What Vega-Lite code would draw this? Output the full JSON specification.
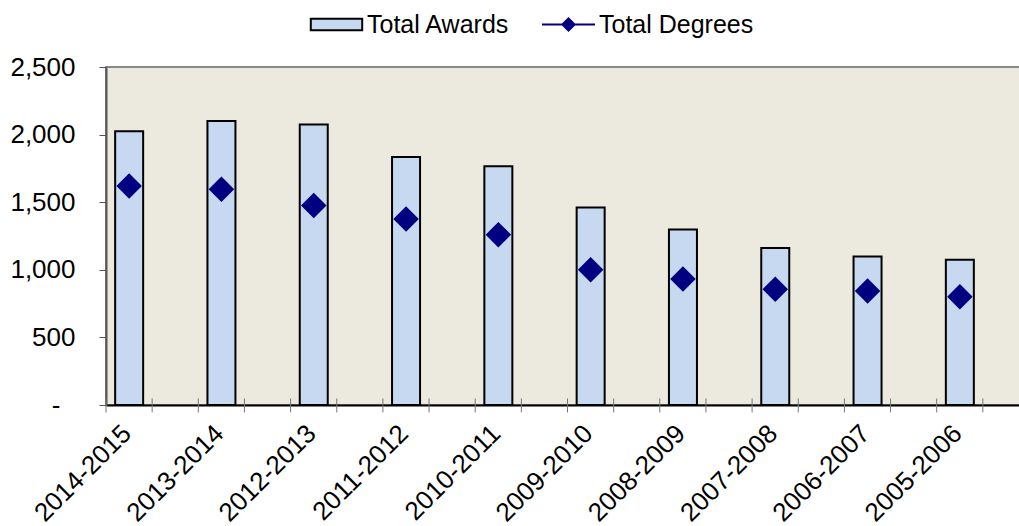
{
  "$schema": "https://vega.github.io/schema/vega-lite/v6.json",
  "width": 916,
  "height": 338,
  "autosize": {"type": "none"},
  "padding": {"left": 106, "top": 67, "right": 0, "bottom": 121},
  "background": "white",
  "config": {
    "font": "Liberation Sans",
    "view": {"fill": "#ECE9DE", "stroke": "#888888", "strokeWidth": 2},
    "axis": {"grid": false, "labelColor": "black", "labelFont": "Liberation Sans", "labelFontSize": 26, "title": null},
    "legend": {"labelFont": "Liberation Sans", "labelFontSize": 25, "labelColor": "black", "padding": 0}
  },
  "data": {
    "values": [
      {"year": "2014-2015", "awards": 2025, "degrees": 1620},
      {"year": "2013-2014", "awards": 2100, "degrees": 1595},
      {"year": "2012-2013", "awards": 2075, "degrees": 1475},
      {"year": "2011-2012", "awards": 1835, "degrees": 1375},
      {"year": "2010-2011", "awards": 1765, "degrees": 1260},
      {"year": "2009-2010", "awards": 1460, "degrees": 1000},
      {"year": "2008-2009", "awards": 1298, "degrees": 932},
      {"year": "2007-2008", "awards": 1161, "degrees": 856},
      {"year": "2006-2007", "awards": 1098, "degrees": 843},
      {"year": "2005-2006", "awards": 1075, "degrees": 800}
    ]
  },
  "layer": [
    {
      "mark": {"type": "bar", "width": 28, "xOffset": -23, "stroke": "black", "strokeWidth": 2},
      "encoding": {
        "x": {
          "field": "year", "type": "nominal", "sort": null,
          "scale": {"range": [0, 923], "paddingInner": 0, "paddingOuter": 0},
          "axis": {
            "title": null, "labelAngle": -45, "labelAlign": "right", "labelBaseline": "middle",
            "ticks": false, "tickSize": 0, "labelPadding": 24, "labelOffset": -25,
            "domainColor": "black", "domainWidth": 2, "labelFontSize": 26, "labelOverlap": false
          }
        },
        "y": {
          "field": "awards", "type": "quantitative",
          "scale": {"domain": [0, 2500], "nice": false},
          "axis": {
            "title": null, "values": [0, 500, 1000, 1500, 2000, 2500],
            "labelExpr": "datum.value === 0 ? '-' : format(datum.value, ',')",
            "tickSize": 7, "tickColor": "#555555", "domainColor": "#555555", "domainWidth": 2,
            "labelPadding": {"condition": {"test": "datum.value === 0", "value": 39}, "value": 24},
            "labelFontSize": 26
          }
        },
        "fill": {
          "datum": "Total Awards",
          "scale": {"range": ["#C6D9F0"]},
          "legend": {
            "orient": "none", "legendX": 203, "legendY": -70,
            "title": null, "symbolSize": 2809, "labelOffset": 3, "padding": 0,
            "symbolType": "M-0.97,-0.215H0.97V0.215H-0.97Z",
            "symbolStrokeColor": "black", "symbolStrokeWidth": 2, "symbolOpacity": 1
          }
        }
      }
    },
    {
      "mark": {"type": "point", "shape": "diamond", "filled": true, "size": 650, "opacity": 1, "xOffset": -23},
      "encoding": {
        "x": {"field": "year", "type": "nominal", "sort": null},
        "y": {"field": "degrees", "type": "quantitative"},
        "color": {
          "datum": "Total Degrees",
          "scale": {"range": ["#000080"]},
          "legend": {
            "orient": "none", "legendX": 435, "legendY": -70,
            "title": null, "symbolSize": 2809, "labelOffset": 3, "padding": 0,
            "symbolType": "M-1,0H1M-0.23,0L0,-0.23L0.23,0L0,0.23Z",
            "symbolStrokeColor": "#000080", "symbolFillColor": "#000080", "symbolStrokeWidth": 2, "symbolOpacity": 1
          }
        }
      }
    },
    {
      "mark": {"type": "rule", "color": "#777777", "strokeWidth": 1, "xOffset": -46.15},
      "encoding": {
        "x": {"field": "year", "type": "nominal", "sort": null},
        "y": {"datum": -55},
        "y2": {"datum": 48}
      }
    },
    {
      "mark": {"type": "rule", "color": "#777777", "strokeWidth": 1},
      "encoding": {
        "x": {"field": "year", "type": "nominal", "sort": null},
        "y": {"datum": -55},
        "y2": {"datum": 48}
      }
    }
  ]
}
